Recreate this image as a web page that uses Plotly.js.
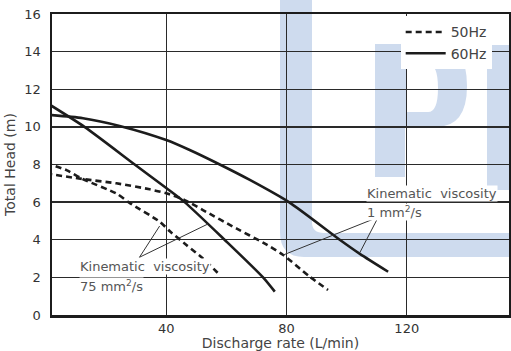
<!DOCTYPE html>
<html><head><meta charset="utf-8">
<script src="https://cdn.plot.ly/plotly-3.0.1.min.js"></script>
<style>html,body{margin:0;padding:0;background:#fff}</style>
</head><body><div id="chart" style="width:511px;height:351px"></div>
<script>
// Discharge rate (L/min) vs Total Head (m)
const x50_visc1 = [0, 12.2, 23.4, 34.5, 40, 46.1, 52.2, 63.3, 72.2, 78.9, 87.7, 93.8];
const y50_visc1 = [7.52, 7.23, 7.0, 6.68, 6.47, 6.11, 5.58, 4.6, 3.85, 3.19, 2.04, 1.33];
const x50_visc75 = [0, 6.8, 12.2, 23.5, 27.8, 37.8, 41.2, 46.7, 52.2, 57.8];
const y50_visc75 = [8.08, 7.7, 7.23, 6.45, 5.96, 4.96, 4.45, 3.72, 3.01, 2.13];
const x60_visc1 = [0, 12.3, 24.5, 40, 47.8, 57.8, 67.8, 80.8, 97.7, 104.4, 113.8];
const y60_visc1 = [10.65, 10.46, 10.05, 9.3, 8.77, 8.0, 7.18, 6.0, 4.0, 3.25, 2.3];
const x60_visc75 = [0, 12.8, 29.5, 40, 46.1, 59.4, 72.2, 76.1];
const y60_visc75 = [11.3, 10, 8, 6.75, 6, 4, 2, 1.24];
const xTicks = [40, 80, 120];
const yTicks = [0, 2, 4, 6, 8, 10, 12, 14, 16];
const seriesNames = ['50Hz', '60Hz'];
const labelVisc1 = ['Kinematic\u00a0 viscosity', '1 mm<sup>2</sup>/s'];
const labelVisc75 = ['Kinematic\u00a0 viscosity', '75 mm<sup>2</sup>/s'];

const ink = '#1c1c1c';
const FONT = 'DejaVu Sans, sans-serif';
const dashed = {color: ink, width: 2.6, dash: '6px,4px', shape: 'spline', smoothing: 0.7};
const solid = {color: ink, width: 2.6, shape: 'spline', smoothing: 0.7};

const traces = [
  {x: x50_visc1, y: y50_visc1, mode: 'lines', line: dashed, name: seriesNames[0], legendgroup: 'a', showlegend: true},
  {x: x60_visc1, y: y60_visc1, mode: 'lines', line: solid, name: seriesNames[1], legendgroup: 'b', showlegend: true},
  {x: x50_visc75, y: y50_visc75, mode: 'lines', line: dashed, name: seriesNames[0], legendgroup: 'a', showlegend: false},
  {x: x60_visc75, y: y60_visc75, mode: 'lines', line: solid, name: seriesNames[1], legendgroup: 'b', showlegend: false}
];

// watermark helper: pixel -> paper
const L = 52, T = 14, W = 457, H = 301;
const px = (x) => ((x - L) / W).toFixed(4);
const py = (y) => ((T + H - y) / H).toFixed(4);
const P = (x, y) => px(x) + ',' + py(y);
const wm = '#cedbee';
const shapes = [
  {type: 'path', xref: 'paper', yref: 'paper', layer: 'below', fillcolor: wm, line: {width: 0},
   path: 'M' + P(280, 0) + ' L' + P(312, 0) + ' L' + P(312, 222) + ' Q' + P(312, 233) + ' ' + P(324, 233) +
         ' L' + P(511, 233) + ' L' + P(511, 257) + ' L' + P(304, 257) + ' Q' + P(280, 257) + ' ' + P(280, 232) + ' Z'},
  {type: 'path', xref: 'paper', yref: 'paper', layer: 'below', fillcolor: wm, line: {width: 0},
   path: 'M' + P(375, 44) + ' L' + P(436, 44) + ' Q' + P(467, 44) + ' ' + P(467, 86) + ' Q' + P(467, 127) + ' ' + P(436, 127) +
         ' L' + P(405, 127) + ' L' + P(405, 177) + ' L' + P(375, 177) + ' Z' +
         ' M' + P(406, 64) + ' L' + P(406, 112) + ' L' + P(428, 112) + ' Q' + P(438, 112) + ' ' + P(438, 88) + ' Q' + P(438, 64) + ' ' + P(428, 64) + ' Z'},
  {type: 'rect', xref: 'paper', yref: 'paper', layer: 'below', fillcolor: wm, line: {width: 0},
   x0: px(487), x1: px(511), y0: py(45), y1: py(190)},
  // leader lines
  {type: 'line', xref: 'x', yref: 'y', x0: 31.1, y0: 3.07, x1: 37.8, y1: 4.73, line: {color: '#333', width: 1}},
  {type: 'line', xref: 'x', yref: 'y', x0: 31.1, y0: 3.07, x1: 53.9, y1: 4.84, line: {color: '#333', width: 1}},
  {type: 'line', xref: 'x', yref: 'y', x0: 110.5, y0: 5.2, x1: 104.4, y1: 3.32, line: {color: '#333', width: 1}},
  {type: 'line', xref: 'x', yref: 'y', x0: 110.5, y0: 5.2, x1: 78.9, y1: 3.19, line: {color: '#333', width: 1}}
];

const annFont = {family: FONT, size: 13, color: '#555'};
const mkAnn = (text, x, y) => ({text: text, x: x, y: y, xref: 'x', yref: 'y', showarrow: false,
  xanchor: 'left', yanchor: 'middle', align: 'left', bgcolor: '#fff', borderpad: 0, font: annFont});
const annotations = [
  mkAnn(labelVisc1[0], 106.4, 6.47), mkAnn(labelVisc1[1], 106.4, 5.49),
  mkAnn(labelVisc75[0], 10.9, 2.57), mkAnn(labelVisc75[1], 10.9, 1.54)
];

const axisCommon = {showline: true, mirror: true, linecolor: ink, linewidth: 2.5, showgrid: true,
  gridcolor: '#2a2a2a', gridwidth: 1.3, zeroline: false, ticks: '',
  tickfont: {family: FONT, size: 13, color: '#333'}};

const layout = {
  width: 511, height: 351,
  margin: {l: 52, r: 2, t: 14, b: 36},
  paper_bgcolor: '#fff', plot_bgcolor: 'rgba(0,0,0,0)',
  xaxis: Object.assign({}, axisCommon, {range: [2, 154], tickvals: xTicks, ticktext: xTicks.map(String),
    title: {text: 'Discharge rate (L/min)', font: {family: FONT, size: 14, color: '#444'}, standoff: 4}}),
  yaxis: Object.assign({}, axisCommon, {range: [0, 16], tickvals: yTicks, ticktext: yTicks.map(String),
    ticklabelstandoff: 6,
    title: {text: 'Total Head (m)', font: {family: FONT, size: 14, color: '#444'}, standoff: 6}}),
  showlegend: true,
  legend: {x: 0.763, y: 0.992, xanchor: 'left', yanchor: 'top', bgcolor: '#fff', borderwidth: 0,
    font: {family: FONT, size: 14, color: '#444'}, tracegroupgap: 0, itemwidth: 40},
  shapes: shapes,
  annotations: annotations
};

Plotly.newPlot('chart', traces, layout, {displayModeBar: false, staticPlot: true});
</script></body></html>
